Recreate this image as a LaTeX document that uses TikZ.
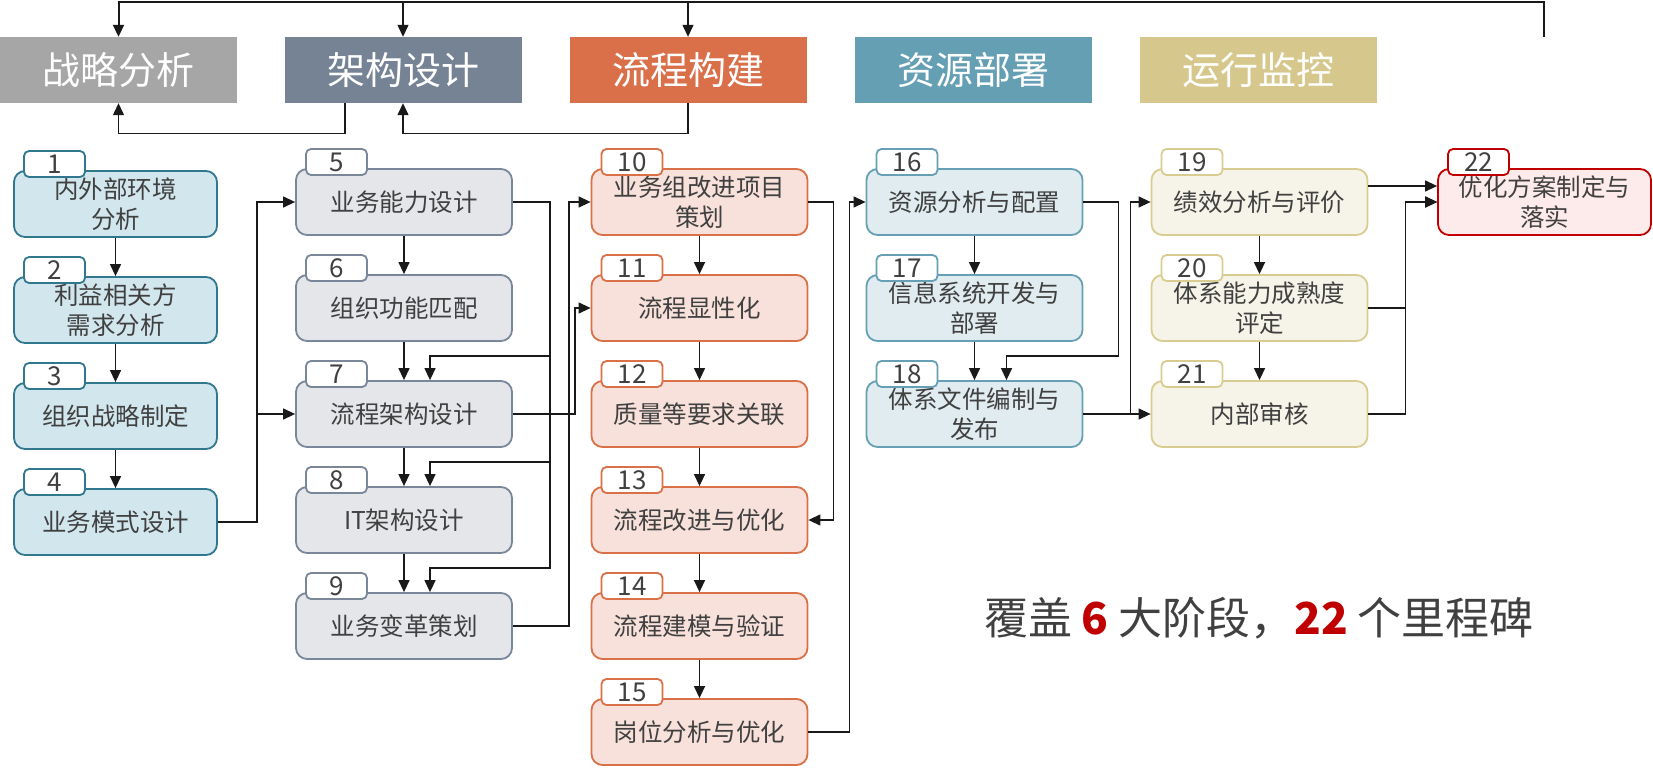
\documentclass[tikz,border=0pt]{standalone}
\usepackage{fontspec}
\setmainfont{Noto Sans CJK SC}
\usetikzlibrary{arrows.meta}

\definecolor{txt}{HTML}{404040}
\definecolor{hdgray}{HTML}{A6A6A6}
\definecolor{hdslate}{HTML}{768395}
\definecolor{hdorange}{HTML}{D9704A}
\definecolor{hdteal}{HTML}{659FB3}
\definecolor{hdkhaki}{HTML}{D6C88C}
\definecolor{caline}{HTML}{31788F}\definecolor{cafill}{HTML}{D2E6EE}
\definecolor{cbline}{HTML}{7A8699}\definecolor{cbfill}{HTML}{E4E6EA}
\definecolor{ccline}{HTML}{DA7048}\definecolor{ccfill}{HTML}{F7E1DA}
\definecolor{cdline}{HTML}{67A0B4}\definecolor{cdfill}{HTML}{E0ECF0}
\definecolor{celine}{HTML}{D9CC90}\definecolor{cefill}{HTML}{F6F4E8}
\definecolor{cfline}{HTML}{C00000}\definecolor{cffill}{HTML}{FDEAEA}
\definecolor{hot}{HTML}{C00000}

\tikzset{
  stage/.style={minimum width=237pt,minimum height=66pt,inner sep=0pt,
    text=white,font=\fontsize{38}{40}\selectfont},
  milestone/.style={rounded corners=11pt,line width=1.8pt,minimum width=216pt,
    minimum height=66pt,inner sep=0pt,align=center,text=txt,
    font=\fontsize{24.5}{30}\selectfont},
  tag/.style={fill=white,rounded corners=5pt,line width=1.8pt,minimum width=61pt,
    minimum height=26pt,inner sep=0pt,text=txt,font=\fontsize{26}{26}\selectfont},
  ca/.style={milestone,draw=caline,fill=cafill,minimum width=203pt},
  cb/.style={milestone,draw=cbline,fill=cbfill},
  cc/.style={milestone,draw=ccline,fill=ccfill},
  cd/.style={milestone,draw=cdline,fill=cdfill},
  ce/.style={milestone,draw=celine,fill=cefill},
  cf/.style={milestone,draw=cfline,fill=cffill,minimum width=213pt},
  link/.style={line width=1.3pt,draw=black!90},
  arr/.style={link,-{Triangle[length=12pt,width=11pt]}}
}

% #1 number, #2 column, #3 x, #4 y, #5 text
\newcommand\Milestone[5]{%
  \node[#2] (m#1) at (#3,#4) {#5};
  \node[tag,draw=#2line,anchor=north west] (t#1)
    at ([xshift=10pt,yshift=20pt]m#1.north west) {#1};
}

\begin{document}
\begin{tikzpicture}[x=1pt,y=-1pt]
\useasboundingbox (0,0) rectangle (1653,768);
            % Stages
\node[stage,fill=hdgray]   (h1) at (118.5,70) {战略分析};
\node[stage,fill=hdslate]  (h2) at (403,70)   {架构设计};
\node[stage,fill=hdorange] (h3) at (688,70)   {流程构建};
\node[stage,fill=hdteal]   (h4) at (973,70)   {资源部署};
\node[stage,fill=hdkhaki]  (h5) at (1258,70)  {运行监控};
            % Milestones
\Milestone{1}{ca}{115.5}{204}{内外部环境\\分析}
\Milestone{2}{ca}{115.5}{310}{利益相关方\\需求分析}
\Milestone{3}{ca}{115.5}{416}{组织战略制定}
\Milestone{4}{ca}{115.5}{522}{业务模式设计}
\Milestone{5}{cb}{404}{202}{业务能力设计}
\Milestone{6}{cb}{404}{308}{组织功能匹配}
\Milestone{7}{cb}{404}{414}{流程架构设计}
\Milestone{8}{cb}{404}{520}{IT架构设计}
\Milestone{9}{cb}{404}{626}{业务变革策划}
\Milestone{10}{cc}{699.5}{202}{业务组改进项目\\策划}
\Milestone{11}{cc}{699.5}{308}{流程显性化}
\Milestone{12}{cc}{699.5}{414}{质量等要求关联}
\Milestone{13}{cc}{699.5}{520}{流程改进与优化}
\Milestone{14}{cc}{699.5}{626}{流程建模与验证}
\Milestone{15}{cc}{699.5}{732}{岗位分析与优化}
\Milestone{16}{cd}{974.5}{202}{资源分析与配置}
\Milestone{17}{cd}{974.5}{308}{信息系统开发与\\部署}
\Milestone{18}{cd}{974.5}{414}{体系文件编制与\\发布}
\Milestone{19}{ce}{1259.5}{202}{绩效分析与评价}
\Milestone{20}{ce}{1259.5}{308}{体系能力成熟度\\评定}
\Milestone{21}{ce}{1259.5}{414}{内部审核}
\Milestone{22}{cf}{1544.5}{202}{优化方案制定与\\落实}
\node[text=txt,font=\fontsize{44}{46}\selectfont] (sum) at (1259,618)
  {覆盖 {\color{hot}\bfseries 6} 大阶段，{\color{hot}\bfseries 22} 个里程碑};
            % Stage loop
\coordinate (fb) at (1544,37);
\draw[arr,line width=2pt] (fb) -- ++(0,-34.5) -| (h1.north);%top
\draw[arr] ([yshift=34.5pt]h2.north) -- (h2.north);
\draw[arr] ([yshift=34.5pt]h3.north) -- (h3.north);
\draw[arr] ([xshift=-58pt]h2.south) -- ++(0,30) -| (h1.south);%back
\draw[arr] (h3.south) -- ++(0,30) -| (h2.south);%back
            % Columns
\draw[arr] (m1) -- (m2);
\draw[arr] (m2) -- (m3);
\draw[arr] (m3) -- (m4);
\draw[arr] (m5) -- (m6);
\draw[arr] (m6) -- (m7);
\draw[arr] (m7) -- (m8);
\draw[arr] (m8) -- (m9);
\draw[arr] (m10) -- (m11);
\draw[arr] (m11) -- (m12);
\draw[arr] (m12) -- (m13);
\draw[arr] (m13) -- (m14);
\draw[arr] (m14) -- (m15);
\draw[arr] (m16) -- (m17);
\draw[arr] (m17) -- (m18);
\draw[arr] (m19) -- (m20);
\draw[arr] (m20) -- (m21);
            % Cross links
\draw[arr] (m4.east) -- ++(39,0) |- (m5.west);
\draw[arr] (m4.east) -- ++(39,0) |- (m7.west);
\draw[arr] (m5.east) -- ++(37,0) |- ([xshift=26pt,yshift=24pt]m7.north) -- ([xshift=26pt]m7.north);
\draw[arr] (m5.east) -- ++(37,0) |- ([xshift=26pt,yshift=24pt]m8.north) -- ([xshift=26pt]m8.north);
\draw[arr] (m5.east) -- ++(37,0) |- ([xshift=26pt,yshift=24pt]m9.north) -- ([xshift=26pt]m9.north);
\draw[arr] (m7.east) -- ++(62,0) |- (m11.west);
\draw[arr] (m9.east) -- ++(56,0) |- (m10.west);
\draw[arr] (m10.east) -- ++(25,0) |- (m13.east);
\draw[arr] (m15.east) -- ++(41,0) |- (m16.west);
\draw[arr] (m16.east) -- ++(35,0) |- ([xshift=32pt,yshift=24pt]m18.north) -- ([xshift=32pt]m18.north);
\draw[arr] (m18.east) -- ++(47,0) |- (m19.west);
\draw[arr] (m18.east) -- (m21.west);
\draw[arr] ([yshift=16pt]m19.east) -- ([yshift=16pt]m22.west);
\draw[arr] (m20.east) -- ++(37,0) |- (m22.west);
\draw[arr] (m21.east) -- ++(37,0) |- (m22.west);
\end{tikzpicture}
\end{document}
